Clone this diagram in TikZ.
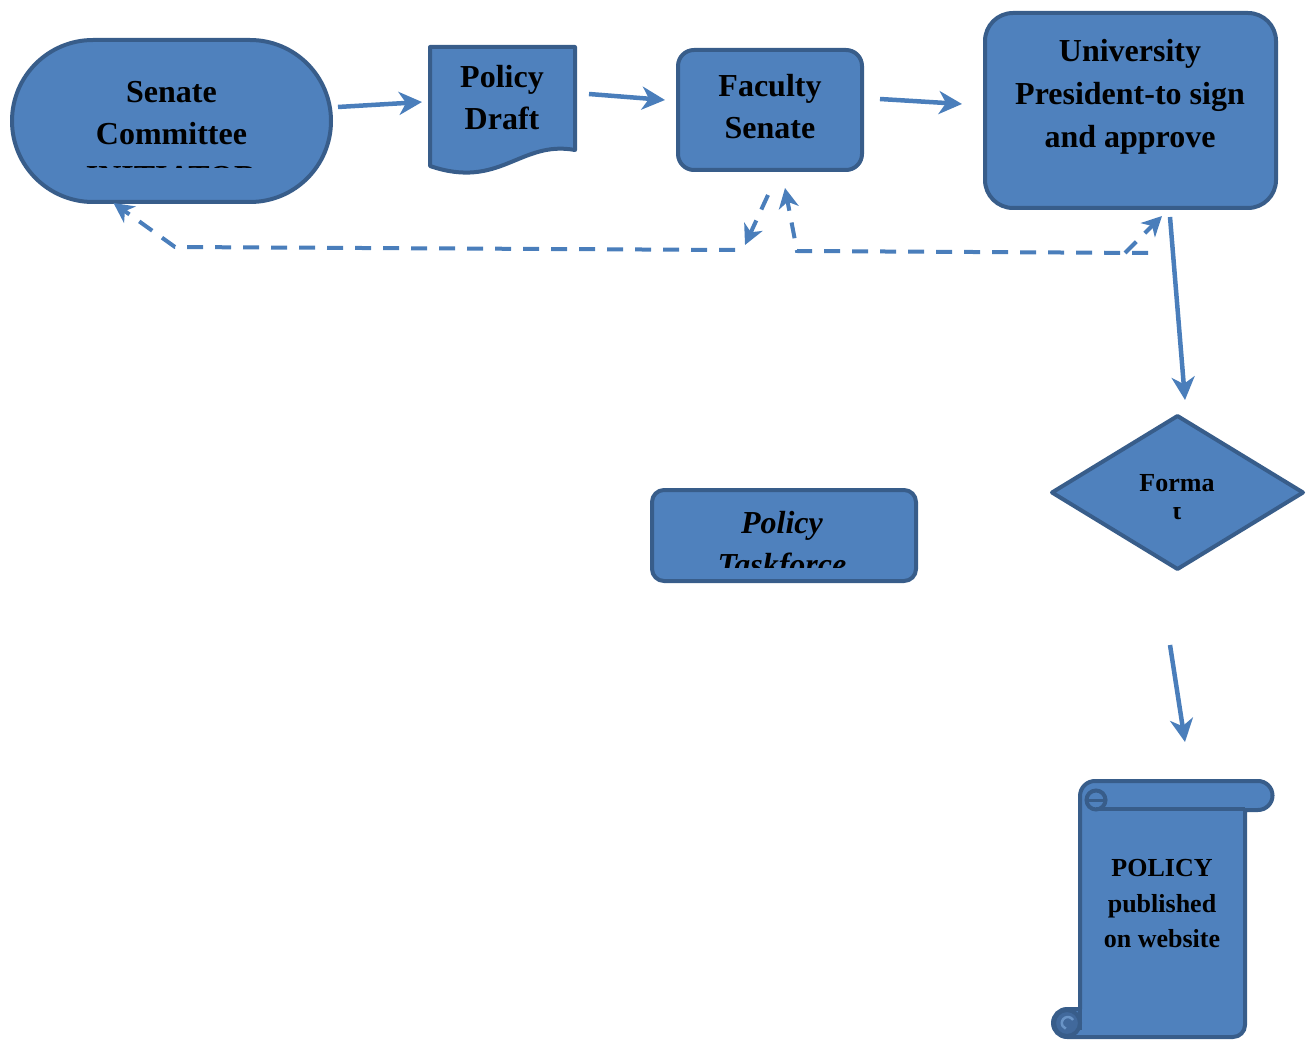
\documentclass[tikz,border=0pt]{standalone}
\usepackage{fontspec}
\setmainfont{Liberation Serif}
\usetikzlibrary{arrows.meta,shapes.geometric,shapes.misc}
\definecolor{fillc}{HTML}{4F81BD}
\definecolor{bordc}{HTML}{385D8A}
\definecolor{curlc}{HTML}{41699C}
\definecolor{arrc}{HTML}{4A7EBB}
\begin{document}
\begin{tikzpicture}[x=1pt,y=-1pt,
  shp/.style={draw=bordc, fill=fillc, line width=4pt, inner sep=0pt, outer sep=0pt, line join=round},
  ghost/.style={inner sep=0pt, outer sep=0pt},
  lbl/.style={font=\fontsize{32}{42}\selectfont\bfseries, inner sep=0pt, anchor=base},
  slbl/.style={font=\fontsize{26}{34}\selectfont\bfseries, inner sep=0pt, anchor=base},
  arr/.style={draw=arrc, line width=4.5pt, -{Stealth[length=23pt,width=23pt,inset=7pt]}},
  darr/.style={draw=arrc, line width=4pt, dash pattern=on 16pt off 12pt, -{Stealth[length=20pt,width=20pt,inset=6pt]}}
]
\useasboundingbox (0,0) rectangle (1306,1040);

% shapes
\node[shp, rounded rectangle, minimum width=319pt, minimum height=162pt] (sc) at (171.5,121) {};
\node[ghost, minimum width=145pt, minimum height=128pt] (pd) at (502.5,110) {};
\path[shp] (430,47) -- (575,47) -- (575,150) .. controls (520,140) and (500,190) .. (430,166) -- cycle;
\node[shp, rectangle, rounded corners=16pt, minimum width=184pt, minimum height=120pt] (fs) at (770,110) {};
\node[shp, rectangle, rounded corners=28pt, minimum width=291pt, minimum height=195pt] (up) at (1130.5,110.5) {};
\node[shp, diamond, minimum width=251pt, minimum height=153pt] (fm) at (1177.5,492.5) {};
\node[shp, rectangle, rounded corners=12pt, minimum width=264pt, minimum height=91pt] (pt) at (784,535.5) {};
\node[ghost, minimum width=192pt, minimum height=258pt] (sr) at (1162,910) {};
\path[shp] (1095,781) -- (1258,781) arc[start angle=270,end angle=450,radius=14.5]
  -- (1245,810) -- (1245,1025) arc[start angle=0,end angle=90,radius=12]
  -- (1067,1037) arc[start angle=90,end angle=270,radius=14]
  -- (1080,1009) -- (1080,796) arc[start angle=180,end angle=270,radius=15] -- cycle;
% top-left curl
\draw[draw=bordc, line width=4pt, line join=round] (1245,809) -- (1096,809);
\draw[draw=bordc, line width=4pt] (1096,800) circle[radius=9.5];
\draw[draw=bordc, line width=3pt] (1087,800) -- (1106,800);
% bottom-left curl
\path[draw=bordc, fill=curlc, line width=4pt] (1067,1023) circle[radius=13];
\draw[draw=fillc!85!white, line width=2.5pt] (1073,1020) arc[start angle=-30,end angle=-250,radius=6];
\draw[draw=bordc, line width=4pt] (1080,1009) -- (1080,1030);

% texts
\node[lbl] (sc1) at (171.5,103) {Senate};
\node[lbl] (sc2) at (171.5,145) {Committee};
\begin{scope}
  \clip (0,0) rectangle (1306,168);
  \node[lbl] (sc3) at (171.5,188) {INITIATOR};
\end{scope}
\node[lbl] (pd1) at (502,88) {Policy};
\node[lbl] (pd2) at (502,130) {Draft};
\node[lbl] (fs1) at (770,97) {Faculty};
\node[lbl] (fs2) at (770,139) {Senate};
\node[lbl] (up1) at (1130,62) {University};
\node[lbl] (up2) at (1130,105) {President-to sign};
\node[lbl] (up3) at (1130,148) {and approve};
\node[slbl] (fm1) at (1177,491) {Forma};
\begin{scope}
  \clip (1100,507.5) rectangle (1250,530);
  \node[slbl] (fm2) at (1177,519) {t};
\end{scope}
\node[lbl, font=\fontsize{32}{42}\selectfont\bfseries\itshape] (pt1) at (782,533) {Policy};
\begin{scope}
  \clip (0,0) rectangle (1306,567);
  \node[lbl, font=\fontsize{32}{42}\selectfont\bfseries\itshape] (pt2) at (782,575) {Taskforce};
\end{scope}
\node[slbl] (sr1) at (1162,876) {POLICY};
\node[slbl] (sr2) at (1162,912) {published};
\node[slbl] (sr3) at (1162,947) {on website};

% solid connectors
\draw[arr] ([shift={(7,-14)}]sc.east) -- ([shift={(-8,-8)}]pd.west);
\draw[arr] ([shift={(14,-16)}]pd.east) -- ([shift={(-13,-10)}]fs.west);
\draw[arr] ([shift={(18,-11)}]fs.east) -- ([shift={(-23,-6.5)}]up.west);
\draw[arr] ([shift={(39.5,9)}]up.south) -- ([shift={(7.5,-16)}]fm.north);
\draw[arr] ([shift={(-7.5,76)}]fm.south) -- ([shift={(23,-39)}]sr.north);

% dashed connectors
\draw[darr] ([shift={(-2,25)}]fs.south) -- ([shift={(-25,75)}]fs.south);
\draw[darr] ([shift={(-35,80)}]fs.south) -- ([shift={(3.5,45)}]sc.south) -- ([shift={(-58,1)}]sc.south);
\draw[darr] ([shift={(17.5,45)}]up.south) -- ([shift={(27,81)}]fs.south) -- ([shift={(15,18)}]fs.south);
\draw[darr] ([shift={(-5.5,45)}]up.south) -- ([shift={(31.5,8)}]up.south);
\end{tikzpicture}
\end{document}
